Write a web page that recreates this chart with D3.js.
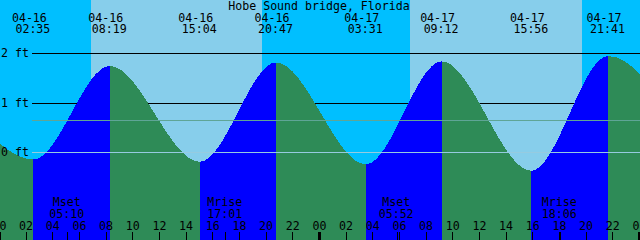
<!DOCTYPE html>
<html>
<head>
<meta charset="utf-8">
<script src="https://cdn.jsdelivr.net/npm/d3@7"></script>
<style>
body { margin: 0; background: #00bfff; }
svg { display: block; }
text { font-family: "DejaVu Sans Mono", monospace; font-size: 11.6px; fill: #000; }
</style>
</head>
<body>
<svg id="chart" width="640" height="240"></svg>
<script>
var title = "Hobe Sound bridge, Florida";

// window shown on the graph
var chartStart = "2024-04-16 00:04:48";
var chartEnd = "2024-04-18 00:04:48";

// high / low water (first and last are just off the graph)
var tideTimes = ["2024-04-15 19:51:00", "2024-04-16 02:35:00", "2024-04-16 08:19:00", "2024-04-16 15:04:00",
                 "2024-04-16 20:47:00", "2024-04-17 03:31:00", "2024-04-17 09:12:00", "2024-04-17 15:56:00",
                 "2024-04-17 21:41:00", "2024-04-18 04:26:00"];
var tideHeights = [1.62, -0.14, 1.75, -0.19, 1.82, -0.24, 1.84, -0.37, 1.95, -0.30];

// sunrise, sunset, sunrise, sunset
var sunTimes = ["2024-04-16 06:55:00", "2024-04-16 19:44:00", "2024-04-17 06:50:00", "2024-04-17 19:43:00"];

var moonTimes = ["2024-04-16 05:10:00", "2024-04-16 17:01:00", "2024-04-17 05:52:00", "2024-04-17 18:06:00"];
var moonNames = ["Mset", "Mrise", "Mset", "Mrise"];

var levelTicks = [2, 1, 0];
var meanLevel = 0.65;

var colors = {
    night: "#00bfff",
    day: "#87ceeb",
    rise: "#0000ff",
    fall: "#2e8b57",
    datum: "#96cbe0",
    mean: "#5fa596"
};

var parse = d3.utcParse("%Y-%m-%d %H:%M:%S");
var fmtDate = d3.utcFormat("%m-%d");
var fmtTime = d3.utcFormat("%H:%M");

var W = 640, H = 240;
var svg = d3.select("#chart");

var t0 = parse(chartStart), t1 = parse(chartEnd);
var x = d3.scaleUtc().domain([t0, t1]).range([0, W]);
var y = d3.scaleLinear().domain([0, 2]).range([152.5, 53.5]);

var tides = tideTimes.map(function(t, i) {
    return {t: parse(t), h: tideHeights[i]};
});

// sky: night everywhere, then daylight bands
svg.append("rect")
    .attr("width", W).attr("height", H)
    .attr("fill", colors.night);

var sun = sunTimes.map(parse);
for (var i = 0; i + 1 < sun.length; i += 2)
    svg.append("rect")
        .attr("x", Math.round(x(sun[i])))
        .attr("y", 0)
        .attr("width", Math.round(x(sun[i + 1])) - Math.round(x(sun[i])))
        .attr("height", H)
        .attr("fill", colors.day);

// level lines behind the water
svg.selectAll(".level")
    .data(levelTicks.filter(function(d) { return d != 0; }))
    .enter().append("line")
    .attr("class", "level")
    .attr("x1", 32).attr("x2", W)
    .attr("y1", function(d) { return Math.floor(y(d)) + 0.5; })
    .attr("y2", function(d) { return Math.floor(y(d)) + 0.5; })
    .attr("stroke", "#000")
    .attr("shape-rendering", "crispEdges");

// clip rects for rising and falling water
var defs = svg.append("defs");
var riseClip = defs.append("clipPath").attr("id", "riseClip");
var fallClip = defs.append("clipPath").attr("id", "fallClip");
for (var i = 0; i + 1 < tides.length; ++i) {
    var a = Math.round(x(tides[i].t)), b = Math.round(x(tides[i + 1].t));
    var clip = tides[i + 1].h > tides[i].h ? riseClip : fallClip;
    clip.append("rect")
        .attr("x", a).attr("y", 0)
        .attr("width", b - a).attr("height", H);
}

var area = d3.area()
    .x(function(d) { return x(d.t); })
    .y0(H)
    .y1(function(d) { return y(d.h); })
    .curve(d3.curveMonotoneX);

svg.append("path")
    .datum(tides)
    .attr("d", area)
    .attr("fill", colors.rise)
    .attr("clip-path", "url(#riseClip)")
    .attr("shape-rendering", "crispEdges");

svg.append("path")
    .datum(tides)
    .attr("d", area)
    .attr("fill", colors.fall)
    .attr("clip-path", "url(#fallClip)")
    .attr("shape-rendering", "crispEdges");

// datum and mean level lines over the water
svg.append("line")
    .attr("x1", 32).attr("x2", W)
    .attr("y1", Math.floor(y(meanLevel)) + 0.5)
    .attr("y2", Math.floor(y(meanLevel)) + 0.5)
    .attr("stroke", colors.mean)
    .attr("shape-rendering", "crispEdges");

svg.append("line")
    .attr("x1", 32).attr("x2", W)
    .attr("y1", Math.floor(y(0)) + 0.5)
    .attr("y2", Math.floor(y(0)) + 0.5)
    .attr("stroke", colors.datum)
    .attr("shape-rendering", "crispEdges");

svg.selectAll(".levelLabel")
    .data(levelTicks)
    .enter().append("text")
    .attr("class", "levelLabel")
    .attr("x", 1)
    .attr("y", function(d) { return Math.floor(y(d)) + 4; })
    .text(function(d) { return d + " ft"; });

// title
svg.append("text")
    .attr("x", 319).attr("y", 10)
    .attr("text-anchor", "middle")
    .text(title);

// high / low labels along the top
var shown = tides.filter(function(d) { return d.t >= t0 && d.t <= t1; });

svg.selectAll(".tideDate")
    .data(shown)
    .enter().append("text")
    .attr("class", "tideDate")
    .attr("x", function(d) { return x(d.t) - 4; })
    .attr("y", 22)
    .attr("text-anchor", "middle")
    .text(function(d) { return fmtDate(d.t); });

svg.selectAll(".tideTime")
    .data(shown)
    .enter().append("text")
    .attr("class", "tideTime")
    .attr("x", function(d) { return x(d.t) - 0.5; })
    .attr("y", 33)
    .attr("text-anchor", "middle")
    .text(function(d) { return fmtTime(d.t); });

// moon events at the bottom
var moon = moonTimes.map(function(t, i) { return {t: parse(t), name: moonNames[i]}; });

svg.selectAll(".moonName")
    .data(moon)
    .enter().append("text")
    .attr("class", "moonName")
    .attr("x", function(d) { return x(d.t) - 1; })
    .attr("y", 206)
    .attr("text-anchor", "middle")
    .text(function(d) { return d.name; });

svg.selectAll(".moonTime")
    .data(moon)
    .enter().append("text")
    .attr("class", "moonTime")
    .attr("x", function(d) { return x(d.t) - 1; })
    .attr("y", 218)
    .attr("text-anchor", "middle")
    .text(function(d) { return fmtTime(d.t); });

svg.selectAll(".moonTick")
    .data(moon)
    .enter().append("line")
    .attr("class", "moonTick")
    .attr("x1", function(d) { return Math.floor(x(d.t)) + 0.5; })
    .attr("x2", function(d) { return Math.floor(x(d.t)) + 0.5; })
    .attr("y1", 232).attr("y2", H)
    .attr("stroke", "#000")
    .attr("shape-rendering", "crispEdges");

// hour axis
var hours = d3.utcHour.range(d3.utcDay.floor(t0), d3.utcHour.offset(t1, 1), 2);

var axis = svg.append("g")
    .attr("transform", "translate(0," + H + ")")
    .call(d3.axisTop(x)
        .tickValues(hours)
        .tickFormat(d3.utcFormat("%H"))
        .tickSize(8)
        .tickPadding(2));

axis.select(".domain").remove();
axis.selectAll(".tick line")
    .attr("stroke", "#000")
    .attr("shape-rendering", "crispEdges")
    .attr("stroke-width", function(d) { return d.getUTCHours() == 0 ? 3 : 1; });
axis.selectAll(".tick text")
    .attr("fill", "#000");
</script>
</body>
</html>
